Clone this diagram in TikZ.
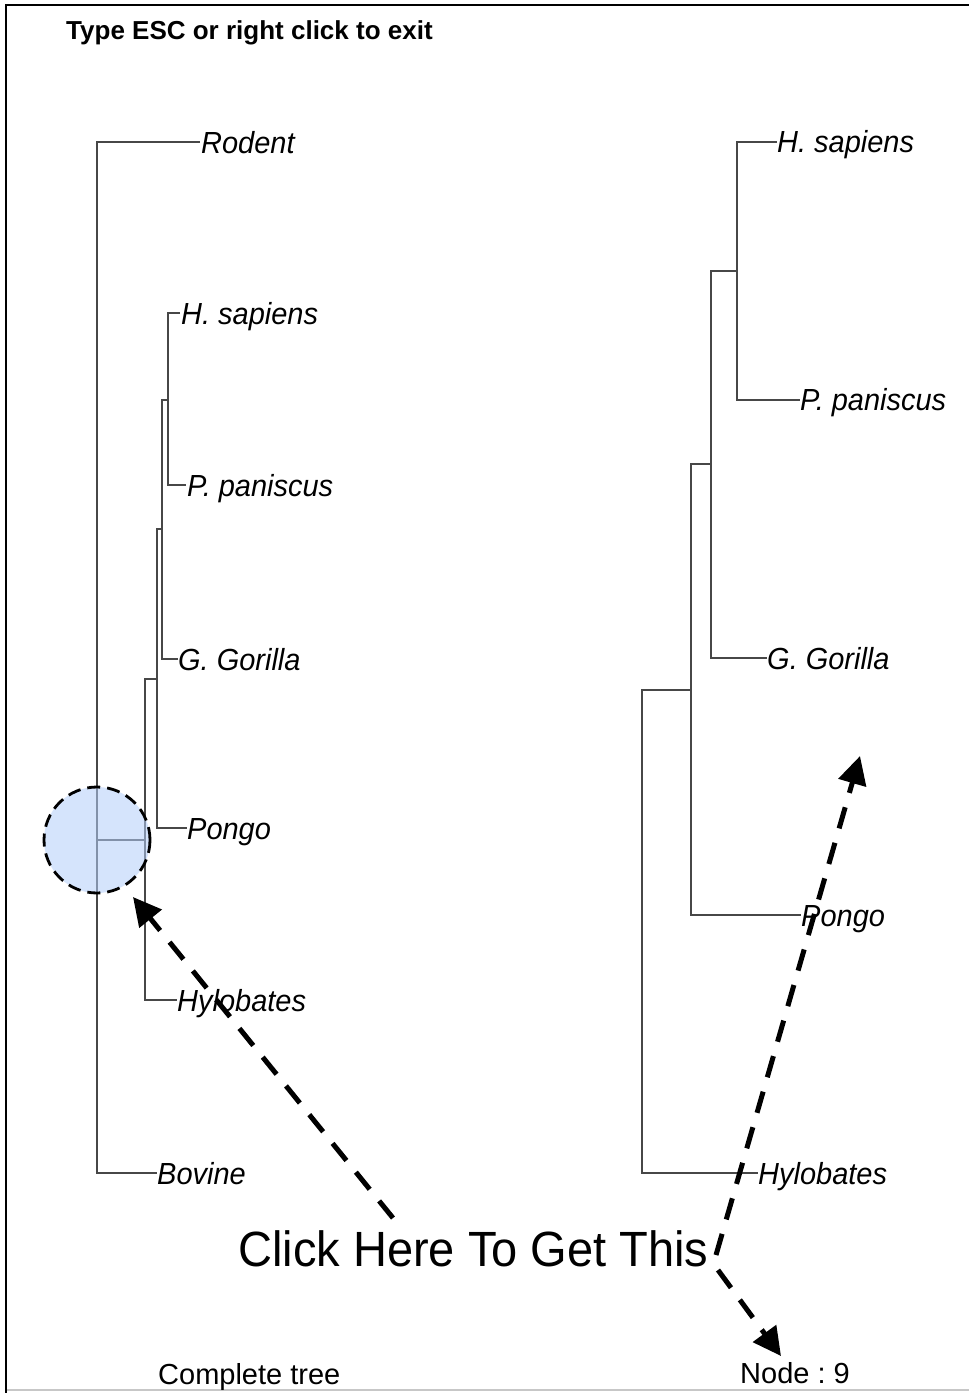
\documentclass[tikz,border=0pt]{standalone}
\usepackage{fontspec}
\setmainfont{Liberation Sans}
\newfontfamily\tipfont[FakeStretch=0.95]{Liberation Sans}
\usetikzlibrary{arrows.meta}
\definecolor{hitblue}{RGB}{180,206,251}
\frenchspacing
\begin{document}
\begin{tikzpicture}[x=1pt,y=-1pt,
  br/.style={draw=black!72,line width=1.3pt},
  tiplbl/.style={font=\tipfont\fontsize{30.5}{34}\selectfont\itshape,anchor=base west,inner sep=0pt},
  plain/.style={anchor=base west,inner sep=0pt},
  ptr/.style={draw=black,line width=5pt,dash pattern=on 22pt off 15pt,-{Triangle[length=28pt,width=28pt]}}]
\useasboundingbox (0,0) rectangle (969,1393);
\fill[white] (0,0) rectangle (969,1393);
% frame
\draw[line width=2.6pt] (6,1393) -- (6,5) -- (969,5);
\draw[black!22,line width=1.5pt] (7.3,1390) -- (969,1390);
% header
\node[plain,font=\bfseries\fontsize{26}{30}\selectfont] (hdr) at (66,39) {Type ESC or right click to exit};

% ---------- left (complete) tree ----------
\coordinate (tRo) at (200,142);
\coordinate (tHs) at (180,313);
\coordinate (tPp) at (186,485);
\coordinate (tGo) at (178,659);
\coordinate (tPo) at (187,828);
\coordinate (tHy) at (177,1000);
\coordinate (tBo) at (157,1173);
\coordinate (nA) at (168,400);
\coordinate (nB) at (162,529);
\coordinate (nC) at (157,679);
\coordinate (nD) at (145,840);
\coordinate (nR) at (97,840);
\draw[br] (tHs) -| (nA) |- (tPp);
\draw[br] (nA) -| (nB) |- (tGo);
\draw[br] (nB) -| (nC) |- (tPo);
\draw[br] (nC) -| (nD) |- (tHy);
\draw[br] (nD) -- (nR);
\draw[br] (tRo) -| (nR) |- (tBo);
\node[tiplbl] (lRo) at (201,153.5) {Rodent};
\node[tiplbl] (lHs) at (181,324.5) {H. sapiens};
\node[tiplbl] (lPp) at (187,496.5) {P. paniscus};
\node[tiplbl] (lGo) at (178,670.5) {G. Gorilla};
\node[tiplbl] (lPo) at (187,839.5) {Pongo};
\node[tiplbl] (lHy) at (177,1011.5) {Hylobates};
\node[tiplbl] (lBo) at (157,1184.5) {Bovine};

% highlight circle
\node[circle,minimum size=106pt,inner sep=0pt,fill=hitblue,fill opacity=0.55,
      draw=black,draw opacity=1,line width=2.8pt,dash pattern=on 13pt off 7pt] (hit) at (97,840) {};

% ---------- right (subtree) ----------
\coordinate (rHs) at (777,142);
\coordinate (rPp) at (800,400);
\coordinate (rGo) at (767,658);
\coordinate (rPo) at (801,915);
\coordinate (rHy) at (758,1173);
\coordinate (mA) at (737,271);
\coordinate (mB) at (711,464);
\coordinate (mC) at (691,690);
\coordinate (mD) at (642,690);
\draw[br] (rHs) -| (mA) |- (rPp);
\draw[br] (mA) -| (mB) |- (rGo);
\draw[br] (mB) -| (mC) |- (rPo);
\draw[br] (mC) -- (mD) |- (rHy);
\node[tiplbl] (sHs) at (777,152.5) {H. sapiens};
\node[tiplbl] (sPp) at (800,410.5) {P. paniscus};
\node[tiplbl] (sGo) at (767,669.5) {G. Gorilla};
\node[tiplbl] (sPo) at (801,926.5) {Pongo};
\node[tiplbl] (sHy) at (758,1184.5) {Hylobates};

% ---------- captions ----------
\node[plain,font=\tipfont\fontsize{49.5}{54}\selectfont] (click) at (238,1266) {Click Here To Get This};
\node[plain,font=\fontsize{29}{33}\selectfont] (cap1) at (158,1384) {Complete tree};
\node[plain,font=\fontsize{29}{33}\selectfont] (cap2) at (740,1383) {Node : 9};

% ---------- pointers ----------
\coordinate (p1s) at (393,1218);
\coordinate (p1e) at (133,897);
\coordinate (p2s) at (716,1255);
\coordinate (p2e) at (860,756);
\coordinate (p3s) at (718,1270);
\coordinate (p3e) at (781,1356);
\draw[ptr] (p1s) -- (p1e);
\draw[ptr] (p2s) -- (p2e);
\draw[ptr] (p3s) -- (p3e);
\end{tikzpicture}
\end{document}
